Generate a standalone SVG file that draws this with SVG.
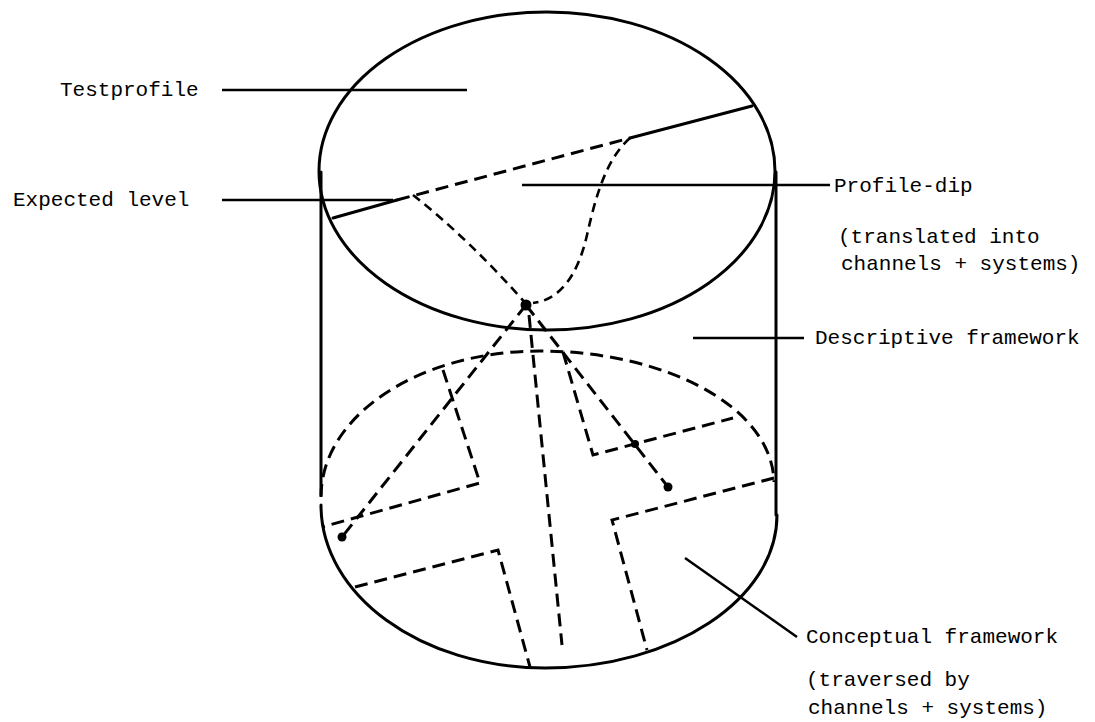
<svg xmlns="http://www.w3.org/2000/svg" width="1095" height="722" viewBox="0 0 1095 722">
<style>
.s{fill:none;stroke:#000;stroke-width:3;stroke-linecap:round}
.d{fill:none;stroke:#000;stroke-width:3;stroke-dasharray:13 7}
.dc{fill:none;stroke:#000;stroke-width:2.6;stroke-dasharray:9 6}
.t{font-family:"Liberation Mono","DejaVu Sans Mono",monospace;font-size:21px;fill:#000}
.l{fill:none;stroke:#000;stroke-width:2.5}
</style>
<rect width="1095" height="722" fill="#fff"/>
<g id="cylinder">
<ellipse class="s" cx="547" cy="171" rx="228" ry="159"/>
<line class="s" x1="321" y1="172" x2="321" y2="495"/>
<line class="s" x1="776" y1="172" x2="776" y2="515"/>
<path class="s" d="M321,505 C321,595 421,668 545,668 C673,668 777,599 777,515"/>
</g>
<g id="testprofile">
<path class="s" d="M333,218 L397,200"/>
<path class="d" d="M397,200 L630,138"/>
<path class="s" d="M630,138 L752,106"/>
<path class="dc" d="M413,195 Q470,240 527,305"/>
<path class="dc" d="M630,138 C605,160 595,200 587,235 C578,275 560,300 533,303"/>
<circle cx="526" cy="305" r="5.5" fill="#000"/>
</g>
<g id="conceptual">
<path class="d" d="M321,497 C321,415 420,351 540,351 C662,351 772,405 774,482"/>
<path class="d" d="M443,370 L480,483 L322,527"/>
<path class="d" d="M563,352 L593,455 L733,418"/>
<path class="d" d="M774,478 L612,520 L647,650"/>
<path class="d" d="M355,587 L498,550 L530,667"/>
<path class="d" d="M529,315 L562,645"/>
<path class="d" d="M526,305 L342,537"/>
<path class="d" d="M526,305 L668,487"/>
<circle cx="342" cy="537" r="4.5" fill="#000"/>
<circle cx="635" cy="444" r="4" fill="#000"/>
<circle cx="668" cy="487" r="4.5" fill="#000"/>
</g>
<g id="connectors">
<line class="l" x1="222" y1="90" x2="467" y2="90"/>
<line class="l" x1="222" y1="200" x2="393" y2="200"/>
<line class="l" x1="522" y1="185" x2="830" y2="185"/>
<line class="l" x1="693" y1="338" x2="804" y2="338"/>
<line class="l" x1="685" y1="558" x2="797" y2="637"/>
</g>
<g id="label-testprofile"><text class="t" x="60" y="96">Testprofile</text></g>
<g id="label-expected"><text class="t" x="13" y="206">Expected level</text></g>
<g id="label-dip"><text class="t" x="834" y="192">Profile-dip</text>
<text class="t" x="838" y="243">(translated into</text>
<text class="t" x="841" y="270">channels + systems)</text></g>
<g id="label-descriptive"><text class="t" x="815" y="344">Descriptive framework</text></g>
<g id="label-conceptual"><text class="t" x="806" y="643">Conceptual framework</text>
<text class="t" x="806" y="686">(traversed by</text>
<text class="t" x="808" y="714">channels + systems)</text></g>
</svg>
